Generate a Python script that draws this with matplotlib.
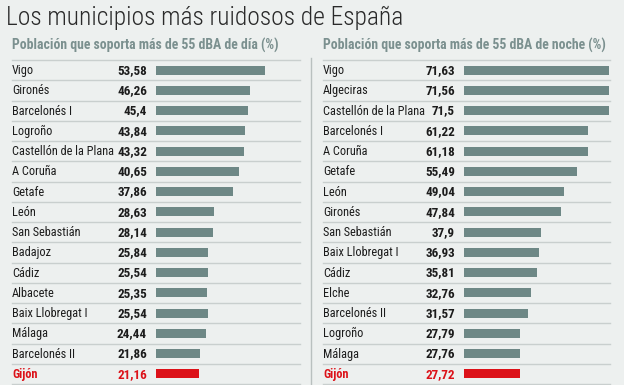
import matplotlib
matplotlib.use("Agg")
import matplotlib.pyplot as plt
from matplotlib import font_manager
from matplotlib.lines import Line2D

# datos: población expuesta a más de 55 dBA (%)
dia_nombres = ["Vigo", "Gironés", "Barcelonés I", "Logroño", "Castellón de la Plana",
               "A Coruña", "Getafe", "León", "San Sebastián", "Badajoz", "Cádiz",
               "Albacete", "Baix Llobregat I", "Málaga", "Barcelonés II", "Gijón"]
dia_valores = [53.58, 46.26, 45.4, 43.84, 43.32, 40.65, 37.86, 28.63, 28.14, 25.84,
               25.54, 25.35, 25.54, 24.44, 21.86, 21.16]

noche_nombres = ["Vigo", "Algeciras", "Castellón de la Plana", "Barcelonés I", "A Coruña",
                 "Getafe", "León", "Gironés", "San Sebastián", "Baix Llobregat I", "Cádiz",
                 "Elche", "Barcelonés II", "Logroño", "Málaga", "Gijón"]
noche_valores = [71.63, 71.56, 71.5, 61.22, 61.18, 55.49, 49.04, 47.84, 37.9, 36.93,
                 35.81, 32.76, 31.57, 27.79, 27.76, 27.72]

titulo = "Los municipios más ruidosos de España"
sub_dia = "Población que soporta más de 55 dBA de día (%)"
sub_noche = "Población que soporta más de 55 dBA de noche (%)"

FONDO = "#edf0ef"
BARRA = "#6e8886"
ROJO = "#dc1219"
GRIS_SUB = "#7b908f"
LINEA = "#c9cfce"
TEXTO = "#1c1c1c"


def primera(cands):
    for c in cands:
        try:
            font_manager.findfont(font_manager.FontProperties(family=c),
                                  fallback_to_default=False)
            return c
        except ValueError:
            continue
    return "DejaVu Sans"


ESTRECHA = primera(["Roboto Condensed", "Open Sans Condensed", "Liberation Sans Narrow",
                    "DejaVu Sans Condensed", "Lato"])
plt.rcParams["font.family"] = [ESTRECHA, "DejaVu Sans"]

W, H = 624, 385
fig = plt.figure(figsize=(W / 100, H / 100), dpi=100, facecolor=FONDO)
rend = fig.canvas.get_renderer()


def ajustar(texto, ancho, **kw):
    # tamaño de letra para que el texto ocupe 'ancho' pixeles
    t = fig.text(0, 0, texto, fontsize=10, **kw)
    w = t.get_window_extent(rend).width
    t.remove()
    return 10 * ancho / w


T_NOMBRE = ajustar("Castellón de la Plana", 101)
T_VALOR = ajustar("43,32", 30, fontweight="bold")
T_SUB = ajustar(sub_dia, 266, fontweight="bold")
T_TIT = ajustar(titulo, 400, fontweight="light")

PX = 2.03  # pixeles por punto porcentual


def fx(px):
    return px / W


def fy(px):
    return 1 - px / H


def panel(x0, x1, xbar, xval, nombres, valores, subtitulo):
    top, bottom = 60, 384
    ax = fig.add_axes([fx(x0), fy(bottom), fx(x1 - x0), (bottom - top) / H])
    ax.set_facecolor("none")
    ax.set_xlim(-(xbar - x0) / PX, (x1 - xbar) / PX)
    n = len(nombres)
    ax.set_ylim(n - 0.5, -0.5)
    ax.axis("off")
    filas = list(range(n))
    colores = [BARRA] * (n - 1) + [ROJO]
    ax.barh(filas, valores, height=0.44, color=colores, left=0)
    for k in range(n + 1):
        ax.axhline(k - 0.5, color=LINEA, lw=1.0, clip_on=False)
    xmin = ax.get_xlim()[0]
    xv = -(xbar - xval) / PX
    for i, (nom, val) in enumerate(zip(nombres, valores)):
        ult = i == n - 1
        c = ROJO if ult else TEXTO
        ax.text(xmin, i + 0.02, nom, ha="left", va="center", fontsize=T_NOMBRE,
                color=c, fontweight="bold" if ult else "normal")
        ax.text(xv, i + 0.02, f"{val:.2f}".rstrip("0").replace(".", ","),
                ha="right", va="center", fontsize=T_VALOR, color=c, fontweight="bold")
    fig.text(fx(x0), fy(45), subtitulo, ha="left", va="center", fontsize=T_SUB,
             color=GRIS_SUB, fontweight="bold")


panel(12, 300, 156, 147, dia_nombres, dia_valores, sub_dia)
panel(323, 610, 464, 455, noche_nombres, noche_valores, sub_noche)

fig.add_artist(Line2D([fx(311), fx(311)], [fy(58), fy(385)], color="#b9c0bf", lw=1.0))

fig.text(fx(6), fy(18), titulo, ha="left", va="center", fontsize=T_TIT,
         color="#2a2a2a", fontweight="light")

fig.savefig("out.png", dpi=100, facecolor=FONDO)
